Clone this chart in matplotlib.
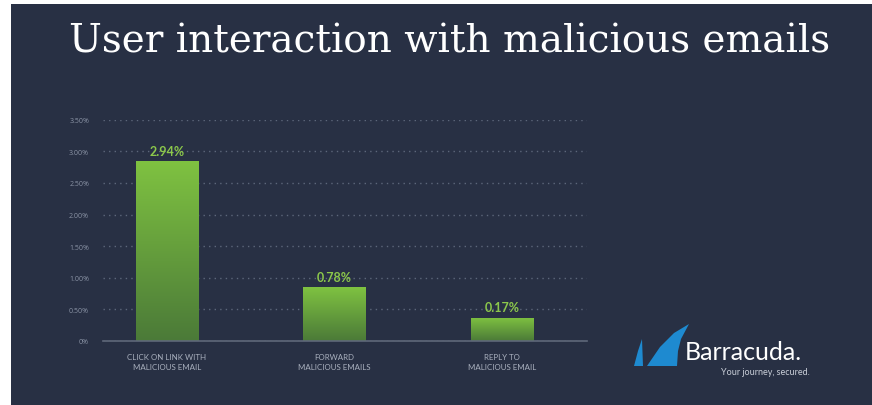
import matplotlib
matplotlib.use("Agg")
import matplotlib.pyplot as plt
import numpy as np
from matplotlib.patches import Rectangle, Polygon
from matplotlib.colors import LinearSegmentedColormap

# ---- data ----
categories = ["CLICK ON LINK WITH\nMALICIOUS EMAIL",
              "FORWARD\nMALICIOUS EMAILS",
              "REPLY TO\nMALICIOUS EMAIL"]
bar_heights = [2.84, 0.85, 0.37]          # bar heights as drawn (%)
value_labels = ["2.94%", "0.78%", "0.17%"]  # printed labels
y_ticks = [0, 0.5, 1.0, 1.5, 2.0, 2.5, 3.0, 3.5]
y_tick_labels = ["0%", "0.50%", "1.00%", "1.50%", "2.00%", "2.50%", "3.00%", "3.50%"]
title = "User interaction with malicious emails"

W, H = 872, 406
BG = "#283044"
fig = plt.figure(figsize=(W / 100, H / 100), dpi=100, facecolor="white")

# dark panel
fig.patches.append(Rectangle((11 / W, 0), 1 - 11 / W, (H - 5) / H,
                             transform=fig.transFigure, facecolor=BG,
                             edgecolor="none", zorder=-10))

ax = fig.add_axes([103 / W, (H - 342) / H, 484 / W, 221.3 / H])
ax.set_zorder(1)
ax.set_facecolor("none")
x = np.arange(len(categories))
bars = ax.bar(x, bar_heights, width=0.376, color="#6aa83c", zorder=2)

cmap = LinearSegmentedColormap.from_list("g", ["#4b7a38", "#7fc241"])
grad = np.linspace(0, 1, 256).reshape(-1, 1)
for b in bars:
    x0, y0 = b.get_x(), b.get_y()
    w, h = b.get_width(), b.get_height()
    im = ax.imshow(grad, cmap=cmap, origin="lower", aspect="auto",
                   extent=[x0, x0 + w, y0, y0 + h], zorder=3)
    im.set_clip_path(b)

for xi, h, lab in zip(x, bar_heights, value_labels):
    ax.annotate(lab, (xi, h), xytext=(0, 3), textcoords="offset points",
                ha="center", va="bottom", color="#8cc84b", fontsize=9,
                fontweight="bold", family="Lato", zorder=4)

ax.set_xlim(-0.382, 2.507)
ax.set_ylim(0, 3.5)
ax.set_yticks(y_ticks)
ax.set_yticklabels(y_tick_labels)
ax.set_xticks(x)
ax.set_xticklabels(categories)
ax.tick_params(axis="y", length=0, pad=10, labelsize=5, labelcolor="#8a93a5")
ax.tick_params(axis="x", length=0, pad=9, labelsize=5.7, labelcolor="#aab1bf")
for t in ax.get_yticklabels():
    t.set_family("Open Sans")
for t in ax.get_xticklabels():
    t.set_family("Lato")
    t.set_linespacing(1.5)

ax.grid(axis="y", linestyle=(0, (1, 3)), color="#5d677b", linewidth=1.0, zorder=1)
ax.grid(axis="x", visible=False)
for s in ["top", "right", "left"]:
    ax.spines[s].set_visible(False)
ax.spines["bottom"].set_color("#5f687a")
ax.spines["bottom"].set_linewidth(1.2)
ax.spines["bottom"].set_zorder(5)

# title
fig.text(450 / W, 1 - 42 / H, title, ha="center", va="center",
         color="white", fontsize=28, family="DejaVu Serif")

# Barracuda logo (decorative)
def px(xp, yp):
    return (xp / W, 1 - yp / H)
small_fin = [px(634, 367), px(638, 352), px(642, 340), px(643, 367)]
big_fin = [px(647, 367), px(660, 348), px(674, 334), px(689, 325),
           px(681, 340), px(678, 352), px(677, 367)]
for pts in (small_fin, big_fin):
    fig.patches.append(Polygon(pts, closed=True, transform=fig.transFigure,
                               facecolor="#1e8ad0", edgecolor="none", zorder=5))
fig.text(685 / W, 1 - 352 / H, "Barracuda.", ha="left", va="center",
         color="white", fontsize=18, family="Lato")
fig.text(810 / W, 1 - 373 / H, "Your journey, secured.", ha="right",
         va="center", color="#c9ced8", fontsize=6.5, family="Lato")

fig.savefig("out.png", dpi=100, facecolor="white")
